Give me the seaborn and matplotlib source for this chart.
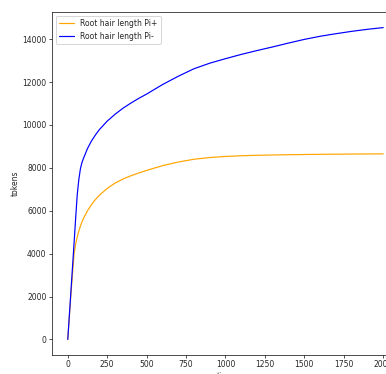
import pandas as pd
import matplotlib
matplotlib.use('Agg')
import matplotlib.pyplot as plt
import seaborn as sns

# time points and token counts
time = [0, 20, 40, 50, 60, 70, 80, 90, 100, 125, 150, 175, 200, 250, 300, 350,
        400, 450, 500, 600, 700, 800, 900, 1000, 1100, 1200, 1300, 1400, 1500,
        1600, 1700, 1800, 1900, 2000]
pi_plus = [0, 2100, 4000, 4450, 4780, 5050, 5280, 5480, 5650, 6000, 6280, 6520,
           6720, 7040, 7290, 7480, 7630, 7760, 7880, 8100, 8270, 8400, 8480, 8530,
           8565, 8585, 8600, 8612, 8622, 8630, 8637, 8643, 8648, 8652]
pi_minus = [0, 2250, 4500, 5650, 6750, 7450, 7950, 8250, 8450, 8900, 9250, 9530,
            9780, 10180, 10500, 10780, 11020, 11240, 11440, 11880, 12270, 12620,
            12880, 13090, 13290, 13470, 13640, 13820, 13990, 14135, 14255, 14365,
            14460, 14540]
labels = ['Root hair length Pi+', 'Root hair length Pi-']
colors = {'Root hair length Pi+': 'orange', 'Root hair length Pi-': 'blue'}

df = pd.concat([
    pd.DataFrame({'time': time, 'tokens': pi_plus, 'series': labels[0]}),
    pd.DataFrame({'time': time, 'tokens': pi_minus, 'series': labels[1]}),
])

sns.set_style("ticks")
plt.rcParams['font.family'] = ['DejaVu Sans']
plt.rcParams['font.size'] = 7.6
plt.rcParams['xtick.major.size'] = 2.7
plt.rcParams['ytick.major.size'] = 2.7
plt.rcParams['xtick.major.pad'] = 2.7
plt.rcParams['ytick.major.pad'] = 2.7
plt.rcParams['axes.linewidth'] = 0.8
plt.rcParams['axes.labelpad'] = 3.0

fig = plt.figure(figsize=(386 / 72, 374 / 72), dpi=72)
ax = fig.add_axes([52 / 386, 19 / 374, 347 / 386, 343 / 374])
sns.lineplot(data=df, x='time', y='tokens', hue='series', hue_order=labels,
             palette=colors, linewidth=1.2, ax=ax)
sns.move_legend(ax, "upper left", title=None, fontsize=7.6)
ax.set_xlabel('time')
ax.set_ylabel('tokens')

fig.savefig('out.png', dpi=72)
